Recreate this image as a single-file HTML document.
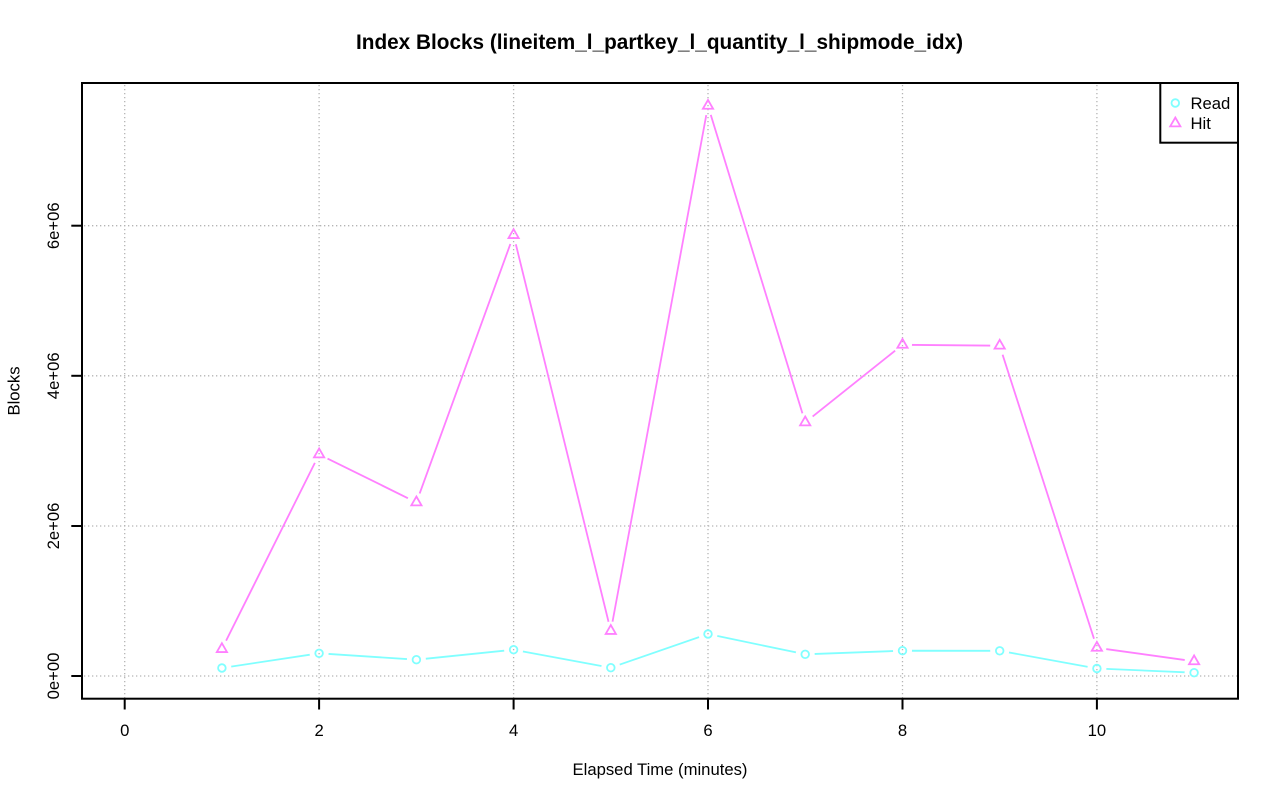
<!DOCTYPE html>
<html>
<head>
<meta charset="utf-8">
<style>
  html, body { margin: 0; padding: 0; background: #ffffff; }
  svg { display: block; }
  text { font-family: "Liberation Sans", Arial, Helvetica, sans-serif; fill: #000; }
</style>
</head>
<body>
<svg width="1280" height="801" viewBox="0 0 1280 801" xmlns="http://www.w3.org/2000/svg">
  <rect x="0" y="0" width="1280" height="801" fill="#ffffff"/>
  <defs>
    <path id="tri" d="M0,-5.9 L5.1,2.95 L-5.1,2.95 Z"/>
    <mask id="mr" maskUnits="userSpaceOnUse" x="0" y="0" width="1280" height="801">
      <rect x="0" y="0" width="1280" height="801" fill="#fff"/>
      <g fill="#000">
        <circle cx="221.9" cy="668.0" r="9.5"/>
        <circle cx="319.1" cy="653.3" r="9.5"/>
        <circle cx="416.4" cy="659.7" r="9.5"/>
        <circle cx="513.6" cy="649.7" r="9.5"/>
        <circle cx="610.8" cy="667.7" r="9.5"/>
        <circle cx="708.0" cy="634.0" r="9.5"/>
        <circle cx="805.2" cy="654.3" r="9.5"/>
        <circle cx="902.5" cy="650.7" r="9.5"/>
        <circle cx="999.7" cy="650.8" r="9.5"/>
        <circle cx="1096.9" cy="668.5" r="9.5"/>
        <circle cx="1194.1" cy="672.7" r="9.5"/>
      </g>
    </mask>
    <mask id="mh" maskUnits="userSpaceOnUse" x="0" y="0" width="1280" height="801">
      <rect x="0" y="0" width="1280" height="801" fill="#fff"/>
      <g fill="#000">
        <circle cx="221.9" cy="649.1" r="9.5"/>
        <circle cx="319.1" cy="454.4" r="9.5"/>
        <circle cx="416.4" cy="502.4" r="9.5"/>
        <circle cx="513.6" cy="235.1" r="9.5"/>
        <circle cx="610.8" cy="631.0" r="9.5"/>
        <circle cx="708.0" cy="105.8" r="9.5"/>
        <circle cx="805.2" cy="422.4" r="9.5"/>
        <circle cx="902.5" cy="344.8" r="9.5"/>
        <circle cx="999.7" cy="345.7" r="9.5"/>
        <circle cx="1096.9" cy="647.8" r="9.5"/>
        <circle cx="1194.1" cy="661.3" r="9.5"/>
      </g>
    </mask>
  </defs>

  <!-- Title -->
  <text x="659.5" y="49" font-size="20.8" font-weight="bold" text-anchor="middle" textLength="607" lengthAdjust="spacingAndGlyphs">Index Blocks (lineitem_l_partkey_l_quantity_l_shipmode_idx)</text>

  <!-- Grid -->
  <g stroke="#b4b4b4" stroke-width="1.3" stroke-dasharray="1.3 2.7" fill="none">
    <line x1="124.7" y1="85" x2="124.7" y2="698"/>
    <line x1="319.1" y1="85" x2="319.1" y2="698"/>
    <line x1="513.6" y1="85" x2="513.6" y2="698"/>
    <line x1="708.0" y1="85" x2="708.0" y2="698"/>
    <line x1="902.5" y1="85" x2="902.5" y2="698"/>
    <line x1="1096.9" y1="85" x2="1096.9" y2="698"/>
    <line x1="84" y1="676.0" x2="1237" y2="676.0"/>
    <line x1="84" y1="526.0" x2="1237" y2="526.0"/>
    <line x1="84" y1="375.8" x2="1237" y2="375.8"/>
    <line x1="84" y1="225.7" x2="1237" y2="225.7"/>
  </g>

  <!-- Read series -->
  <polyline mask="url(#mr)" fill="none" stroke="#80ffff" stroke-width="1.8" stroke-linejoin="round"
    points="221.9,668.0 319.1,653.3 416.4,659.7 513.6,649.7 610.8,667.7 708.0,634.0 805.2,654.3 902.5,650.7 999.7,650.8 1096.9,668.5 1194.1,672.7"/>
  <g fill="none" stroke="#80ffff" stroke-width="1.8">
    <circle cx="221.9" cy="668.0" r="3.8"/>
    <circle cx="319.1" cy="653.3" r="3.8"/>
    <circle cx="416.4" cy="659.7" r="3.8"/>
    <circle cx="513.6" cy="649.7" r="3.8"/>
    <circle cx="610.8" cy="667.7" r="3.8"/>
    <circle cx="708.0" cy="634.0" r="3.8"/>
    <circle cx="805.2" cy="654.3" r="3.8"/>
    <circle cx="902.5" cy="650.7" r="3.8"/>
    <circle cx="999.7" cy="650.8" r="3.8"/>
    <circle cx="1096.9" cy="668.5" r="3.8"/>
    <circle cx="1194.1" cy="672.7" r="3.8"/>
  </g>

  <!-- Hit series -->
  <polyline mask="url(#mh)" fill="none" stroke="#ff80ff" stroke-width="1.8" stroke-linejoin="round"
    points="221.9,649.1 319.1,454.4 416.4,502.4 513.6,235.1 610.8,631.0 708.0,105.8 805.2,422.4 902.5,344.8 999.7,345.7 1096.9,647.8 1194.1,661.3"/>
  <g fill="none" stroke="#ff80ff" stroke-width="1.8" stroke-linejoin="miter">
    <use href="#tri" x="221.9" y="649.1"/>
    <use href="#tri" x="319.1" y="454.4"/>
    <use href="#tri" x="416.4" y="502.4"/>
    <use href="#tri" x="513.6" y="235.1"/>
    <use href="#tri" x="610.8" y="631.0"/>
    <use href="#tri" x="708.0" y="105.8"/>
    <use href="#tri" x="805.2" y="422.4"/>
    <use href="#tri" x="902.5" y="344.8"/>
    <use href="#tri" x="999.7" y="345.7"/>
    <use href="#tri" x="1096.9" y="647.8"/>
    <use href="#tri" x="1194.1" y="661.3"/>
  </g>

  <!-- Legend -->
  <rect x="1160.3" y="83" width="77.7" height="59.7" fill="#ffffff" stroke="#000" stroke-width="2"/>
  <circle cx="1175.3" cy="103" r="3.8" fill="none" stroke="#80ffff" stroke-width="1.8"/>
  <use href="#tri" x="1175.3" y="123.4" fill="none" stroke="#ff80ff" stroke-width="1.8"/>
  <text x="1190.5" y="109" font-size="16.67">Read</text>
  <text x="1190.5" y="129" font-size="16.67">Hit</text>

  <!-- Plot box -->
  <rect x="82" y="83" width="1156" height="615.7" fill="none" stroke="#000" stroke-width="2"/>

  <!-- Ticks -->
  <g stroke="#000" stroke-width="2">
    <line x1="124.7" y1="698.7" x2="124.7" y2="709.5"/>
    <line x1="319.1" y1="698.7" x2="319.1" y2="709.5"/>
    <line x1="513.6" y1="698.7" x2="513.6" y2="709.5"/>
    <line x1="708.0" y1="698.7" x2="708.0" y2="709.5"/>
    <line x1="902.5" y1="698.7" x2="902.5" y2="709.5"/>
    <line x1="1096.9" y1="698.7" x2="1096.9" y2="709.5"/>
    <line x1="71.3" y1="676.0" x2="82" y2="676.0"/>
    <line x1="71.3" y1="526.0" x2="82" y2="526.0"/>
    <line x1="71.3" y1="375.8" x2="82" y2="375.8"/>
    <line x1="71.3" y1="225.7" x2="82" y2="225.7"/>
  </g>

  <!-- X tick labels -->
  <g font-size="16.67" text-anchor="middle">
    <text x="124.7" y="736">0</text>
    <text x="319.1" y="736">2</text>
    <text x="513.6" y="736">4</text>
    <text x="708.0" y="736">6</text>
    <text x="902.5" y="736">8</text>
    <text x="1096.9" y="736">10</text>
  </g>

  <!-- Y tick labels (rotated) -->
  <g font-size="16.67" text-anchor="middle">
    <text transform="translate(59,676.0) rotate(-90)">0e+00</text>
    <text transform="translate(59,526.0) rotate(-90)">2e+06</text>
    <text transform="translate(59,375.8) rotate(-90)">4e+06</text>
    <text transform="translate(59,225.7) rotate(-90)">6e+06</text>
  </g>

  <!-- Axis labels -->
  <text x="660" y="775" font-size="16.67" text-anchor="middle">Elapsed Time (minutes)</text>
  <text transform="translate(19.5,391) rotate(-90)" font-size="16.67" text-anchor="middle">Blocks</text>
</svg>
</body>
</html>
